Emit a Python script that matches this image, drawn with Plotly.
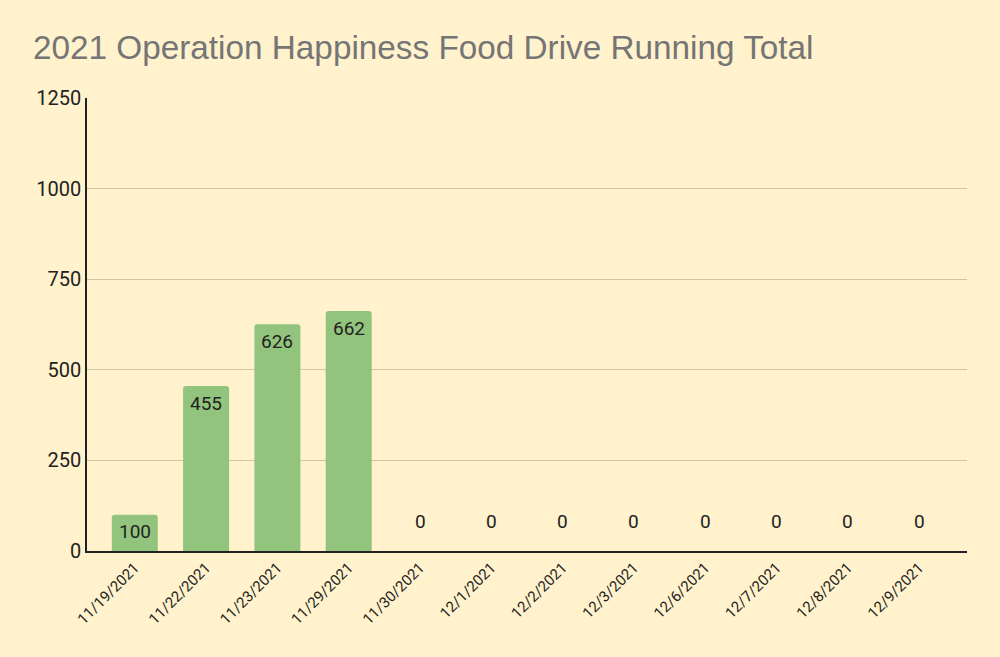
import plotly.graph_objects as go

# data
dates = ["11/19/2021", "11/22/2021", "11/23/2021", "11/29/2021", "11/30/2021",
         "12/1/2021", "12/2/2021", "12/3/2021", "12/6/2021", "12/7/2021",
         "12/8/2021", "12/9/2021"]
running_total = [100, 455, 626, 662, 0, 0, 0, 0, 0, 0, 0, 0]
y_ticks = [0, 250, 500, 750, 1000, 1250]

bg = "#FFF2CC"
label_font = dict(family="Roboto", size=19, color="#222222")

fig = go.Figure()
fig.add_trace(go.Bar(
    x=dates,
    y=running_total,
    marker=dict(color="#93C47D", line=dict(width=0)),
    hoverinfo="x+y",
))

# value labels: just under the bar top, zeros float a bit above the axis
for d, v in zip(dates, running_total):
    fig.add_annotation(x=d, y=v, text=str(v), showarrow=False,
                       yshift=-17 if v > 0 else 30, font=label_font)

fig.update_layout(
    width=1000, height=657,
    paper_bgcolor=bg, plot_bgcolor=bg,
    margin=dict(l=87, r=33, t=98, b=106),
    bargap=0.355,
    barcornerradius=3,
    showlegend=False,
    title=dict(
        text="2021 Operation Happiness Food Drive Running Total",
        font=dict(family="Liberation Sans, Arial", size=33.3, color="#757575"),
        x=0.033, xanchor="left", y=0.928, yanchor="middle",
    ),
)

fig.update_xaxes(
    type="category",
    range=[-0.67, len(dates) - 0.33],
    tickangle=-45,
    tickfont=dict(family="Roboto", size=15, color="#222222"),
    showline=True, linecolor="#222222", linewidth=2,
    showgrid=False, ticks="",
)
fig.update_yaxes(
    range=[0, 1250],
    tickvals=y_ticks,
    tickfont=dict(family="Roboto", size=20, color="#222222"),
    showgrid=True, gridcolor="#CFC4A4", gridwidth=1,
    showline=True, linecolor="#222222", linewidth=1.5,
    zeroline=False, ticks="",
)

fig.write_html("out.html", config={"displayModeBar": False},
               post_script="document.body.style.margin='0';")
